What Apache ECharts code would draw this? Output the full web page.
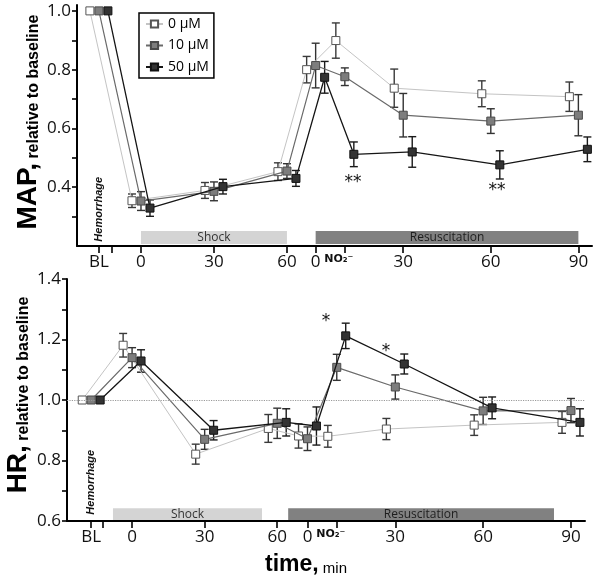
<!DOCTYPE html>
<html><head><meta charset="utf-8">
<script src="https://cdn.jsdelivr.net/npm/echarts@6/dist/echarts.min.js"></script>
<style>html,body{margin:0;padding:0;background:#fff}#c{width:600px;height:578px}</style>
</head><body><div id="c"></div>
<script>
// ---------- DATA ----------
const seriesNames = ['0 μM', '10 μM', '50 μM'];
const timeLabels = ['BL', '0', '30', '60', '0', '10', '30', '60', '90'];
const phase = ['bl', 'shock', 'shock', 'shock', 'resus', 'resus', 'resus', 'resus', 'resus'];
const minutes = [0, 0, 30, 60, 0, 10, 30, 60, 90];

// MAP, relative to baseline
const map0 = [1.0, 0.354, 0.389, 0.453, 0.800, 0.899, 0.737, 0.718, 0.708];
const map0Err = [0, 0.023, 0.027, 0.03, 0.045, 0.06, 0.065, 0.044, 0.05];
const map10 = [1.0, 0.353, 0.386, 0.455, 0.814, 0.776, 0.645, 0.625, 0.645];
const map10Err = [0, 0.032, 0.032, 0.025, 0.076, 0.03, 0.074, 0.042, 0.07];
const map50 = [1.0, 0.329, 0.402, 0.430, 0.774, 0.512, 0.520, 0.476, 0.529];
const map50Err = [0, 0.028, 0.025, 0.027, 0.054, 0.042, 0.052, 0.048, 0.042];

// HR, relative to baseline
const hr0 = [1.0, 1.181, 0.821, 0.906, 0.881, 0.880, 0.904, 0.917, 0.926];
const hr0Err = [0, 0.039, 0.033, 0.046, 0.04, 0.036, 0.035, 0.034, 0.036];
const hr10 = [1.0, 1.140, 0.870, 0.923, 0.872, 1.108, 1.043, 0.964, 0.965];
const hr10Err = [0, 0.033, 0.033, 0.05, 0.039, 0.043, 0.04, 0.045, 0.04];
const hr50 = [1.0, 1.129, 0.900, 0.926, 0.914, 1.212, 1.119, 0.974, 0.926];
const hr50Err = [0, 0.037, 0.032, 0.045, 0.063, 0.042, 0.033, 0.036, 0.045];

// phase bars (minutes within phase)
const topPhases = [{ name: 'Shock', ph: 'shock', from: 0, to: 60 }, { name: 'Resuscitation', ph: 'resus', from: 0, to: 90 }];
const botPhases = [{ name: 'Shock', ph: 'shock', from: -7.9, to: 53.7 }, { name: 'Resuscitation', ph: 'resus', from: -6.6, to: 84.2 }];

// significance marks
const topStars = [{ ph: 'resus', t: 12.8, v: 0.417, text: '**' }, { ph: 'resus', t: 62.1, v: 0.39, text: '**' }];
const botStars = [{ ph: 'resus', t: 6.3, v: 1.258, text: '*' }, { ph: 'resus', t: 26.8, v: 1.159, text: '*' }];

const yTicksTop = [0.4, 0.6, 0.8, 1.0];
const yMinorTop = [0.3, 0.5, 0.7, 0.9];
const yTicksBot = [0.6, 0.8, 1.0, 1.2, 1.4];
const yMinorBot = [0.7, 0.9, 1.1, 1.3];

// ---------- LAYOUT (axis mapping of the broken time axis) ----------
const layouts = [
  { bl: -17.3, bl2: -11.9, rOff: 71.8, rScale: 1.2, min: -26.3, max: 185.4, jitter: 3.7, yMin: 0.2, yMax: 1.02, barLo: 0.207, barHi: 0.251, hemY: 0.325 },
  { bl: -16.9, bl2: -12.0, rOff: 72.5, rScale: 1.21, min: -26.9, max: 187.2, jitter: 3.7, yMin: 0.6, yMax: 1.4, barLo: 0.603, barHi: 0.642, hemY: 0.728 }
];
function xp(Lc, ph, t) {
  if (ph === 'bl') return Lc.bl;
  if (ph === 'shock') return t;
  return Lc.rOff + Lc.rScale * t;
}

const FONT = 'Open Sans';
const lineStyles = [
  { line: { color: '#c4c4c4', width: 1 }, item: { color: '#ffffff', borderColor: '#555', borderWidth: 1 }, err: '#3a3a3a' },
  { line: { color: '#6a6a6a', width: 1.2 }, item: { color: '#7d7d7d', borderColor: '#4a4a4a', borderWidth: 1 }, err: '#333' },
  { line: { color: '#151515', width: 1.3 }, item: { color: '#333333', borderColor: '#111', borderWidth: 1 }, err: '#1a1a1a' }
];
const jit = [-1, 0, 1];

function errRender(color) {
  return function (params, api) {
    const x = api.value(0), y = api.value(1), e = api.value(2);
    if (!(e > 0)) return;
    const a = api.coord([x, y + e]), b = api.coord([x, y - e]), w = 4;
    const st = { stroke: color, lineWidth: 1.4 };
    return { type: 'group', children: [
      { type: 'line', shape: { x1: a[0], y1: a[1], x2: b[0], y2: b[1] }, style: st },
      { type: 'line', shape: { x1: a[0] - w, y1: a[1], x2: a[0] + w, y2: a[1] }, style: st },
      { type: 'line', shape: { x1: b[0] - w, y1: b[1], x2: b[0] + w, y2: b[1] }, style: st }
    ] };
  };
}

const panels = [
  { vals: [map0, map10, map50], errs: [map0Err, map10Err, map50Err], phases: topPhases, stars: topStars },
  { vals: [hr0, hr10, hr50], errs: [hr0Err, hr10Err, hr50Err], phases: botPhases, stars: botStars }
];

const series = [];
const xAxes = [], yAxes = [];
panels.forEach((P, g) => {
  const Lc = layouts[g];
  const tickVals = [Lc.bl, Lc.bl2, xp(Lc, 'shock', 0), xp(Lc, 'shock', 30), xp(Lc, 'shock', 60),
    xp(Lc, 'resus', 0), xp(Lc, 'resus', 10), xp(Lc, 'resus', 30), xp(Lc, 'resus', 60), xp(Lc, 'resus', 90)];
  const labelMap = {};
  const labelVals = [];
  timeLabels.forEach((lab, i) => {
    const v = xp(Lc, phase[i], minutes[i]);
    labelVals.push(v);
    labelMap[v.toFixed(4)] = (phase[i] === 'resus' && minutes[i] === 10) ? '{no|NO₂⁻}' : lab;
  });
  xAxes.push({
    type: 'value', gridIndex: g, min: Lc.min, max: Lc.max, splitLine: { show: false },
    axisLine: { show: true, onZero: false, lineStyle: { color: '#000', width: 2 } },
    axisTick: { show: true, customValues: tickVals, length: 7, lineStyle: { color: '#000', width: 1.6 } },
    axisLabel: {
      customValues: labelVals, margin: 8, fontSize: 17, fontFamily: FONT, color: '#111',
      formatter: v => labelMap[Number(v).toFixed(4)] || '',
      rich: { no: { fontSize: 11, fontWeight: 'bold', fontFamily: 'DejaVu Sans', color: '#111', padding: [0, 12, 4, 0] } }
    }
  });
  const ticks = g === 0 ? yTicksTop : yTicksBot;
  const minor = g === 0 ? yMinorTop : yMinorBot;
  yAxes.push({
    type: 'value', gridIndex: g, position: 'left', min: Lc.yMin, max: Lc.yMax, splitLine: { show: false },
    axisLine: { show: true, onZero: false, lineStyle: { color: '#000', width: 2 } },
    axisTick: { show: true, customValues: ticks.concat(minor), length: 5, lineStyle: { color: '#000', width: 1.6 } },
    axisLabel: { customValues: ticks, margin: 6, fontSize: 17, fontFamily: FONT, color: '#111', formatter: v => Number(v).toFixed(1) }
  });
  const yi = g;
  P.vals.forEach((vals, s) => {
    const xs = vals.map((v, i) => xp(Lc, phase[i], minutes[i]) + jit[s] * Lc.jitter);
    series.push({
      type: 'custom', name: 'err' + g + s, xAxisIndex: g, yAxisIndex: yi, z: 2, silent: true,
      dimensions: ['x', 'y', 'e'], encode: { x: 0, y: 1 },
      data: vals.map((v, i) => [xs[i], v, P.errs[s][i]]), renderItem: errRender(lineStyles[s].err)
    });
    series.push({
      type: 'line', name: seriesNames[s], xAxisIndex: g, yAxisIndex: yi, z: 3 + s, silent: true,
      data: vals.map((v, i) => [xs[i], v]), symbol: 'rect', symbolSize: 8, showAllSymbol: true,
      lineStyle: lineStyles[s].line, itemStyle: lineStyles[s].item, emphasis: { disabled: true },
      markLine: (g === 1 && s === 0) ? { silent: true, symbol: 'none', label: { show: false },
        lineStyle: { type: 'dotted', color: '#9a9a9a', width: 1.2 }, data: [{ yAxis: 1.0 }] } : undefined
    });
  });
  const barColors = { shock: '#d4d4d4', resus: '#818181' };
  const barText = { shock: '#333', resus: '#1e1e1e' };
  series.push({
    type: 'custom', name: 'phases' + g, xAxisIndex: g, yAxisIndex: yi, z: 1, silent: true,
    data: P.phases.map(p => [xp(Lc, p.ph, (p.from + p.to) / 2), (Lc.barLo + Lc.barHi) / 2]),
    renderItem: (params, api) => {
      const p = P.phases[params.dataIndex];
      const a = api.coord([xp(Lc, p.ph, p.from), Lc.barHi]);
      const b = api.coord([xp(Lc, p.ph, p.to), Lc.barLo]);
      return { type: 'group', children: [
        { type: 'rect', shape: { x: a[0], y: a[1], width: b[0] - a[0], height: b[1] - a[1] }, style: { fill: barColors[p.ph] } },
        { type: 'text', x: (a[0] + b[0]) / 2, y: (a[1] + b[1]) / 2 + 0.5, style: { text: p.name, fill: barText[p.ph], fontSize: 12, fontFamily: FONT, align: 'center', verticalAlign: 'middle' } }
      ] };
    }
  });
  const ann = P.stars.map(st => ({ x: xp(Lc, st.ph, st.t), y: st.v, text: st.text, rot: 0, size: 17, font: 'DejaVu Sans', weight: 'normal', style: 'normal' }));
  ann.push({ x: Lc.bl, y: Lc.hemY, text: 'Hemorrhage', rot: Math.PI / 2, size: 11, font: 'Liberation Sans', weight: 'bold', style: 'italic' });
  series.push({
    type: 'custom', name: 'ann' + g, xAxisIndex: g, yAxisIndex: yi, z: 6, silent: true,
    data: ann.map(a => [a.x, a.y]),
    renderItem: (params, api) => {
      const a = ann[params.dataIndex];
      const p = api.coord([a.x, a.y]);
      return { type: 'text', x: p[0], y: p[1], rotation: a.rot, style: { text: a.text, fill: '#111', fontSize: a.size, fontFamily: a.font, fontWeight: a.weight, fontStyle: a.style, align: 'center', verticalAlign: 'middle' } };
    }
  });
});

const titleRich = (big, small) => ({
  a: { fontSize: big, fontWeight: 'bold', fontFamily: 'Liberation Sans', fill: '#000', verticalAlign: 'bottom' },
  b: { fontSize: small, fontWeight: 'bold', fontFamily: 'Liberation Sans', fill: '#000', verticalAlign: 'bottom' }
});

const option = {
  animation: false,
  backgroundColor: '#fff',
  grid: [
    { left: 77, right: 8, top: 5, bottom: 332, containLabel: false },
    { left: 67, right: 15, top: 279, bottom: 57, containLabel: false }
  ],
  xAxis: xAxes,
  yAxis: yAxes,
  legend: {
    data: seriesNames, orient: 'vertical', left: 139, top: 13, borderColor: '#000', borderWidth: 1.5,
    padding: [4, 5, 4, 6], itemGap: 7.5, itemWidth: 17, itemHeight: 9, selectedMode: false,
    textStyle: { fontSize: 14, fontFamily: FONT, color: '#000', lineHeight: 14 }
  },
  graphic: [
    { type: 'text', x: 28, y: 122, rotation: Math.PI / 2, style: { text: '{a|MAP,}{b| relative to baseline}', rich: titleRich(28, 16), align: 'center', verticalAlign: 'middle' } },
    { type: 'text', x: 18, y: 395, rotation: Math.PI / 2, style: { text: '{a|HR,}{b| relative to baseline}', rich: titleRich(28, 16), align: 'center', verticalAlign: 'middle' } },
    { type: 'text', x: 306, y: 565, style: { text: '{a|time,}{c| min}', rich: {
      a: { fontSize: 23, fontWeight: 'bold', fontFamily: 'Liberation Sans', fill: '#000', verticalAlign: 'bottom' },
      c: { fontSize: 15, fontFamily: 'Liberation Sans', fill: '#000', verticalAlign: 'bottom' } }, align: 'center', verticalAlign: 'middle' } }
  ],
  series: series
};

const chart = echarts.init(document.getElementById('c'), null, { renderer: 'canvas' });
chart.setOption(option);
</script>
</body></html>
